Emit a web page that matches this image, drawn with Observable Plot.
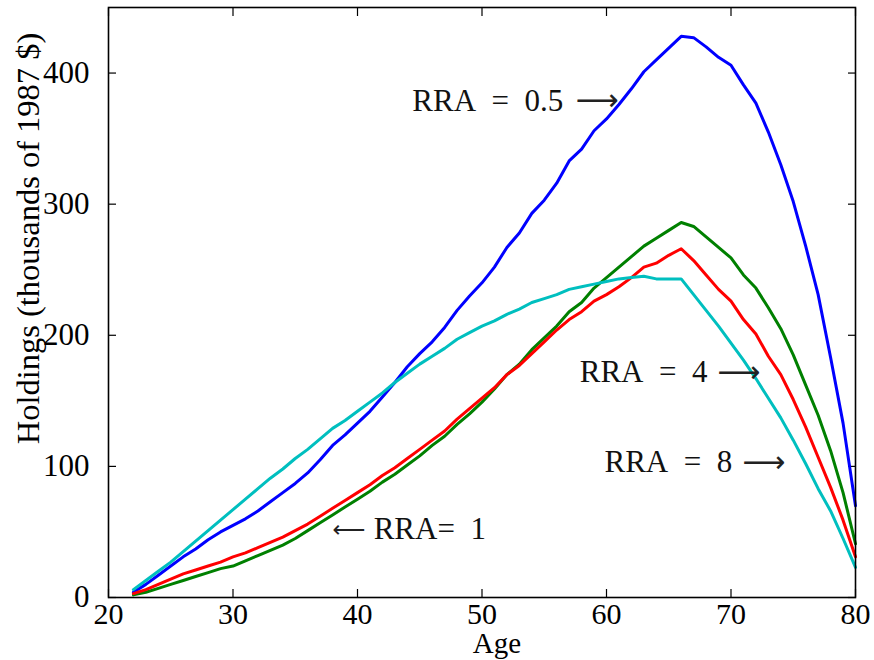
<!DOCTYPE html>
<html>
<head>
<meta charset="utf-8">
<script src="https://cdn.jsdelivr.net/npm/d3@7"></script>
<script src="https://cdn.jsdelivr.net/npm/@observablehq/plot@0.6"></script>
<style>
  html, body { margin: 0; padding: 0; background: #fff; }
  #chart svg { display: block; }
</style>
</head>
<body>
<div id="chart"></div>
<script>
const ages = d3.range(22, 81);

const rra05 = [4,10,17,24,31,37,44,50,55,60,66,73,80,87,95,105,116,124,133,142,153,164,176,186,195,206,219,230,240,252,267,278,293,303,316,333,342,356,365,376,388,401,410,419,428,427,420,412,406,391,377,355,330,302,268,231,183,133,70];
const rra1 = [2,4,7,10,13,16,19,22,24,28,32,36,40,45,51,57,63,69,75,81,88,94,101,108,116,123,132,140,149,159,170,178,189,198,207,218,225,236,244,252,260,268,274,280,286,283,275,267,259,246,236,221,205,185,162,139,112,80,41];
const rra4 = [3,6,10,14,18,21,24,27,31,34,38,42,46,51,56,62,68,74,80,86,93,99,106,113,120,127,136,144,152,160,170,177,186,195,204,212,218,226,231,237,244,252,255,261,266,257,246,235,226,212,201,184,170,151,130,107,84,59,31];
const rra8 = [6,13,20,27,35,43,51,59,67,75,83,91,98,106,113,121,129,135,142,149,156,164,171,178,184,190,197,202,207,211,216,220,225,228,231,235,237,239,241,243,244,245,243,243,243,231,219,207,194,181,167,152,137,120,102,83,66,45,23];

const seriesNames = ["RRA = 0.5", "RRA = 1", "RRA = 4", "RRA = 8"];
const seriesValues = [rra05, rra1, rra4, rra8];
const seriesColors = ["#0000ff", "#008000", "#ff0000", "#00bfbf"];

const xTicks = [20, 30, 40, 50, 60, 70, 80];
const yTicks = [0, 100, 200, 300, 400];

// annotation labels (text part) and their arrow glyphs
const noteText = ["RRA\u2002=\u20020.5", "RRA\u2002=\u20024", "RRA\u2002=\u20028", "RRA=\u20021"];
const noteAge = [44.4, 57.85, 59.84, 41.3];
const noteValue = [379, 172, 103, 52];
const arrowGlyph = ["\u27F6", "\u27F6", "\u27F6"];
const arrowAge = [57.5, 68.9, 70.9];
const arrowValue = [379, 172, 103];
const leftArrowGlyph = ["\u27F5"];
const leftArrowAge = [38.0];
const leftArrowValue = [52];

const rows = seriesNames.flatMap((name, i) =>
  ages.map((age, j) => ({series: name, age, value: seriesValues[i][j]})));
const notes = noteText.map((t, i) => ({text: t, age: noteAge[i], value: noteValue[i]}));
const arrows = arrowGlyph.map((t, i) => ({text: t, age: arrowAge[i], value: arrowValue[i]}));
const leftArrows = leftArrowGlyph.map((t, i) => ({text: t, age: leftArrowAge[i], value: leftArrowValue[i]}));

const font = "'Liberation Serif', 'DejaVu Serif', serif";

const chart = Plot.plot({
  width: 874,
  height: 660,
  marginLeft: 108,
  marginRight: 19,
  marginTop: 7,
  marginBottom: 63,
  style: {fontFamily: font, fontSize: "31px", color: "#000", background: "#fff"},
  x: {domain: [20, 80]},
  y: {domain: [0, 450]},
  color: {domain: seriesNames, range: seriesColors},
  marks: [
    Plot.axisX({anchor: "bottom", ticks: xTicks, tickSize: 0, tickPadding: 5, label: null, fontSize: 30}),
    Plot.axisY({anchor: "left", ticks: yTicks, tickSize: 0, tickPadding: 19, label: null, fontSize: 31}),
    Plot.axisX({anchor: "bottom", ticks: xTicks, tickSize: -8, text: null, label: null, strokeWidth: 1.2}),
    Plot.axisX({anchor: "top", ticks: xTicks, tickSize: -8, text: null, label: null, strokeWidth: 1.2}),
    Plot.axisY({anchor: "left", ticks: yTicks, tickSize: -8, text: null, label: null, strokeWidth: 1.2}),
    Plot.axisY({anchor: "right", ticks: yTicks, tickSize: -8, text: null, label: null, strokeWidth: 1.2}),
    Plot.line(rows, {x: "age", y: "value", z: "series", stroke: "series", strokeWidth: 3}),
    Plot.text(notes, {x: "age", y: "value", text: "text", textAnchor: "start", lineAnchor: "middle", fontSize: 31, fill: "#111"}),
    Plot.text(arrows, {x: "age", y: "value", text: "text", textAnchor: "start", lineAnchor: "middle", fontSize: 30, fontFamily: "'DejaVu Sans', sans-serif", fill: "#222"}),
    Plot.text(leftArrows, {x: "age", y: "value", text: "text", textAnchor: "start", lineAnchor: "middle", fontSize: 23, fontFamily: "'DejaVu Sans', sans-serif", fill: "#222"}),
    Plot.text(["Age"], {frameAnchor: "bottom", dx: 15, dy: 46, fontSize: 29, lineAnchor: "middle"}),
    Plot.text(["Holdings (thousands of 1987 $)"], {frameAnchor: "left", textAnchor: "middle", dx: -80, dy: -64, rotate: -90, fontSize: 32.5, lineAnchor: "middle"}),
    Plot.frame({stroke: "#000", strokeWidth: 1.6})
  ]
});

document.getElementById("chart").appendChild(chart);
</script>
</body>
</html>
